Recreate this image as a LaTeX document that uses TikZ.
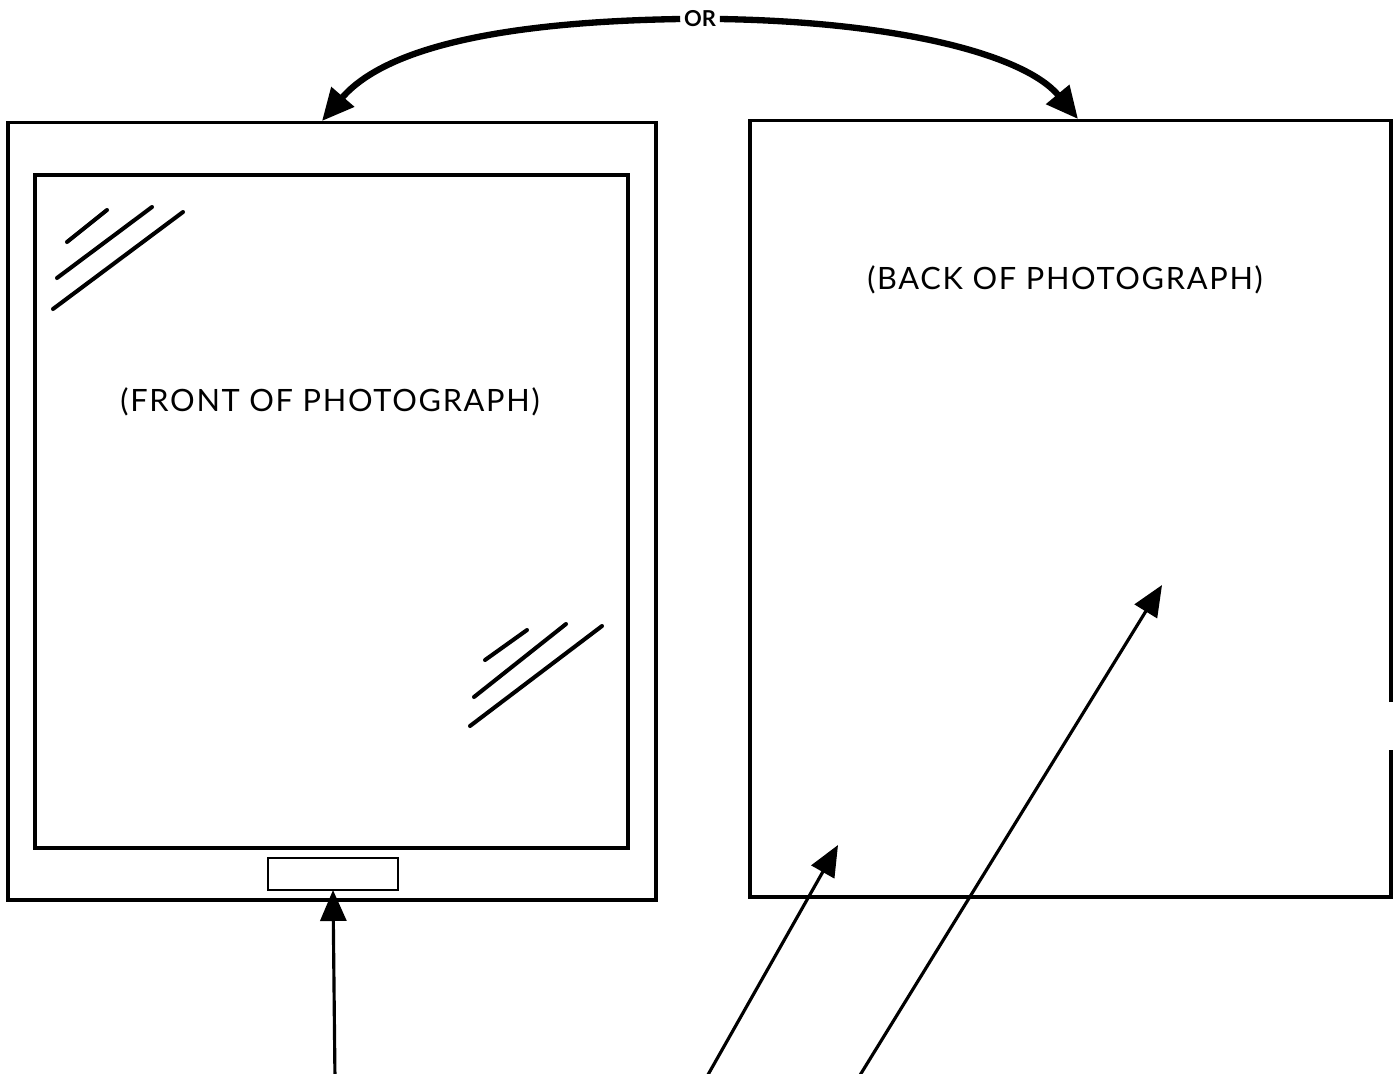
\documentclass[tikz,border=0pt]{standalone}
\usepackage{fontspec}
\setmainfont{Lato}
\newfontfamily\spacedfont[LetterSpace=5.5]{Lato}
\usetikzlibrary{arrows.meta,positioning,calc}

\tikzset{
  frame/.style={draw, line width=1.8pt, inner sep=0pt, outer sep=0pt},
  pointer/.style={line width=1.8pt, -{Triangle[length=0.62cm,width=0.52cm]}},
  choice/.style={line width=3.6pt, -{Triangle[length=0.64cm,width=0.58cm]}},
  glare/.style={line width=2.3pt, line cap=round},
  caption/.style={font=\spacedfont\fontsize{17.5}{20}\selectfont, inner sep=0pt}
}

\begin{document}
\begin{tikzpicture}[x=0.02cm, y=-0.02cm]
  \useasboundingbox (0,0) rectangle (1396,1073);

  % front of the photograph
  \node [frame, minimum width=12.96cm, minimum height=15.56cm] (front) at (332,511) {};
  \node [frame, minimum width=11.86cm, minimum height=13.46cm] (frontpic) at (331.5,511.5) {};
  \node [frame, line width=1.3pt, minimum width=2.6cm, minimum height=0.64cm] (tab) at (333,874) {};
  \node [caption] (fronttext) at (330,402) {(FRONT OF PHOTOGRAPH)};

  % back of the photograph, right edge broken
  \node [inner sep=0pt, outer sep=0pt, minimum width=12.82cm, minimum height=15.54cm] (back) at (1070.5,508.5) {};
  \draw [line width=1.8pt] (back.east |- 0,702) -- (back.north east) -- (back.north west)
    -- (back.south west) -- (back.south east) -- (back.east |- 0,750);
  \node [caption] (backtext) at (1065,280) {(BACK OF PHOTOGRAPH)};

  % glare marks
  \draw [glare] (67,242) -- (107,210);
  \draw [glare] (57,278) -- (152,207);
  \draw [glare] (53,309) -- (183,212);
  \draw [glare] (485,660) -- (527,630);
  \draw [glare] (474,697) -- (566,624);
  \draw [glare] (470,726) -- (602,626);

  % the choice
  \node [font=\fontsize{12.5}{14}\selectfont\bfseries, inner sep=2pt] (or) at (700,19) {OR};
  \coordinate (fronttop) at (322,121);
  \coordinate (backtop) at (1078,119);
  \draw [choice] (or.west) .. controls (500,22) and (385,48) .. (fronttop);
  \draw [choice] (or.east) .. controls (900,22) and (1025,55) .. (backtop);

  % pointers from below
  \coordinate (tail1) at (335,1080);
  \coordinate (tail2) at (705,1080);
  \coordinate (tail3) at (857,1080);
  \coordinate (spot2) at (838,845);
  \coordinate (spot3) at (1162,585);
  \draw [pointer] (tail1) -- (tab.south);
  \draw [pointer] (tail2) -- (spot2);
  \draw [pointer] (tail3) -- (spot3);
\end{tikzpicture}
\end{document}
